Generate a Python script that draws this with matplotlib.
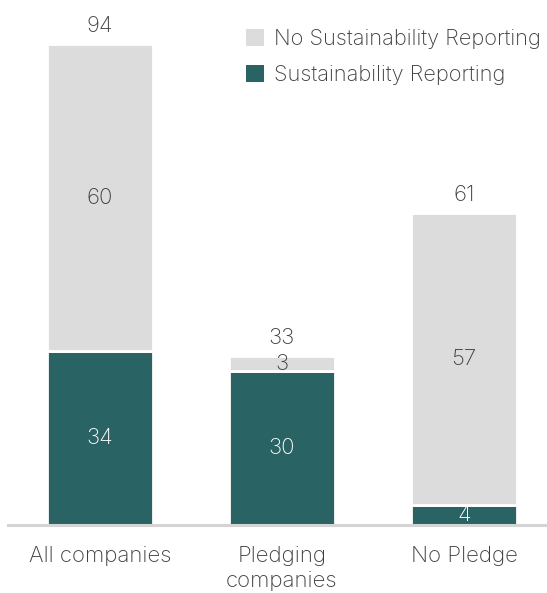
import matplotlib
matplotlib.use("Agg")
import matplotlib.pyplot as plt
import numpy as np

plt.rcParams['font.family'] = ['Inter', 'DejaVu Sans']

categories = ["All companies", "Pledging\ncompanies", "No Pledge"]
reporting = [34, 30, 4]
no_reporting = [60, 3, 57]
totals = [94, 33, 61]

teal = "#296363"
grey = "#dcdcdc"
text_col = "#404040"
fs = 16

fig = plt.figure(figsize=(5.47, 5.93), dpi=100)
ax = fig.add_axes([8 / 547, 68 / 593, 1 - 8 / 547, 1 - 68 / 593])

x = np.arange(len(categories))
width = 0.58
b1 = ax.bar(x, reporting, width, color=teal, edgecolor="white", linewidth=2,
            label="Sustainability Reporting")
b2 = ax.bar(x, no_reporting, width, bottom=reporting, color=grey, edgecolor="white",
            linewidth=2, label="No Sustainability Reporting")

# segment values
for i in range(len(categories)):
    ax.text(x[i], reporting[i] / 2, str(reporting[i]), ha="center", va="center",
            color="white", fontsize=fs, fontweight="light")
    ax.text(x[i], reporting[i] + no_reporting[i] / 2, str(no_reporting[i]),
            ha="center", va="center", color=text_col, fontsize=fs, fontweight="light")
    ax.annotate(str(totals[i]), (x[i], totals[i]), xytext=(0, 6), textcoords="offset points",
                ha="center", va="bottom", color=text_col, fontsize=fs, fontweight="light")

ax.set_xlim(-92 / 182, 447 / 182)
ax.set_ylim(0, 102.6)
ax.set_xticks(x)
ax.set_xticklabels(categories, fontsize=fs, color=text_col, fontweight="light",
                   linespacing=1.3)
ax.tick_params(axis="x", length=0, pad=15)
ax.set_yticks([])
for s in ["top", "right", "left"]:
    ax.spines[s].set_visible(False)
ax.spines["bottom"].set_color("#d4d4d4")
ax.spines["bottom"].set_linewidth(2.2)

handles = [b2, b1]
leg = ax.legend(handles, [h.get_label() for h in handles], loc="upper left",
                bbox_to_anchor=(246 / 547, 1 - 29 / 593), bbox_transform=fig.transFigure,
                frameon=False, fontsize=15.7, handlelength=0.82, handleheight=0.82,
                handletextpad=0.45, labelspacing=0.72, borderaxespad=0, borderpad=0)
for t in leg.get_texts():
    t.set_color(text_col)
    t.set_fontweight("light")
for h in leg.legend_handles:
    h.set_linewidth(0)

fig.savefig("out.png", dpi=100)
